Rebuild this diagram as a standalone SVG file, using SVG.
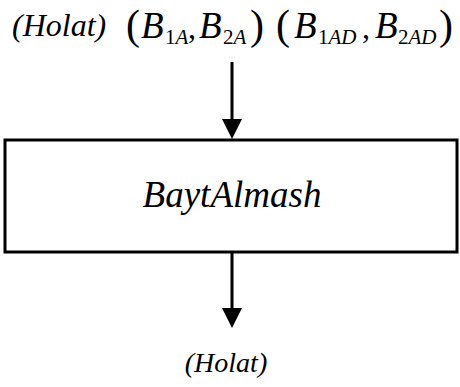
<svg xmlns="http://www.w3.org/2000/svg" width="460" height="387" viewBox="0 0 460 387">
<style>
.t{font-family:"Liberation Serif","Times New Roman",serif;fill:#000}
.i{font-style:italic}
.line{stroke:#000;stroke-width:3;fill:none}
.head{fill:#000}
</style>
<rect width="460" height="387" fill="#fff"/>
<g id="inputs">
<text class="t i" x="12" y="36" font-size="32">(Holat)</text>
<text class="t" y="39" font-size="42"><tspan x="126">(</tspan><tspan x="250">)</tspan><tspan x="276">(</tspan><tspan x="439">)</tspan></text>
<text class="t i" y="38" font-size="37"><tspan x="141">B</tspan><tspan x="199">B</tspan><tspan x="294">B</tspan><tspan x="375">B</tspan></text>
<text class="t" y="38" font-size="32"><tspan x="188">,</tspan><tspan x="362">,</tspan></text>
<text class="t" y="44" font-size="21"><tspan x="165">1</tspan><tspan class="i">A</tspan><tspan x="223">2</tspan><tspan class="i">A</tspan><tspan x="318">1</tspan><tspan class="i">AD</tspan><tspan x="398">2</tspan><tspan class="i">AD</tspan></text>
</g>
<g id="connectors">
<line class="line" x1="232" y1="62" x2="232" y2="121"/>
<polygon class="head" points="222,119 242,119 232,139"/>
<line class="line" x1="232" y1="252" x2="232" y2="310"/>
<polygon class="head" points="222,308 242,308 232,328"/>
</g>
<g id="BaytAlmash">
<rect class="line" x="5" y="140" width="452" height="112"/>
<text class="t i" x="232" y="207" font-size="37" text-anchor="middle">BaytAlmash</text>
</g>
<g id="output">
<text class="t i" x="226" y="372" font-size="28" text-anchor="middle">(Holat)</text>
</g>
</svg>
